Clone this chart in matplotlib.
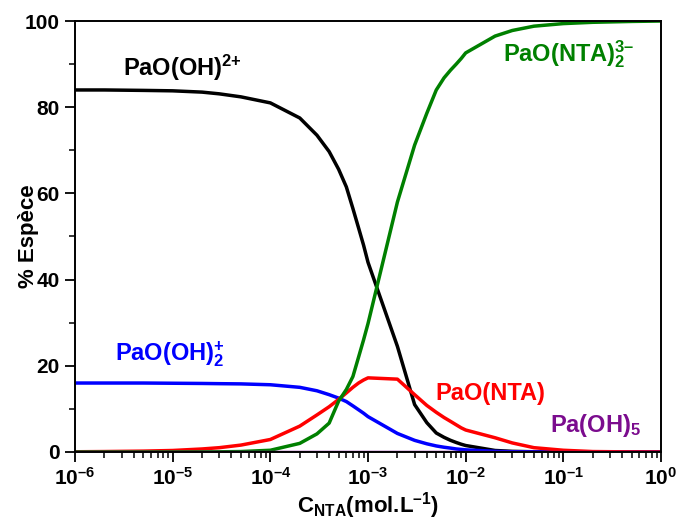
import matplotlib
matplotlib.use("Agg")
import numpy as np
import matplotlib.pyplot as plt
from matplotlib.ticker import LogLocator, MultipleLocator, NullFormatter, FuncFormatter

plt.rcParams['font.family'] = ['Liberation Sans', 'DejaVu Sans']
plt.rcParams['font.weight'] = 'bold'
plt.rcParams['mathtext.fontset'] = 'custom'
plt.rcParams['mathtext.rm'] = 'Liberation Sans:bold'
plt.rcParams['mathtext.it'] = 'Liberation Sans:bold'
plt.rcParams['mathtext.bf'] = 'Liberation Sans:bold'
plt.rcParams['mathtext.default'] = 'rm'
plt.rcParams['axes.unicode_minus'] = False

# concentration of NTA (mol/L)
c_nta = [1e-6, 2e-6, 5e-6, 1e-5, 2e-5, 3e-5, 5e-5, 1e-4, 2e-4, 3e-4, 4e-4,
         5e-4, 6e-4, 7e-4, 8e-4, 9e-4, 1e-3, 2e-3, 3e-3, 4e-3, 5e-3, 6e-3,
         7e-3, 8e-3, 9e-3, 1e-2, 2e-2, 3e-2, 5e-2, 1e-1, 2e-1, 5e-1, 1.0]

# % of each species
pao_oh = [84.0, 84.0, 83.9, 83.8, 83.5, 83.1, 82.4, 81.0, 77.5, 73.5, 69.7,
          65.6, 61.5, 56.5, 52.0, 48.0, 44.0, 24.5, 11.0, 6.8, 4.4, 3.4,
          2.7, 2.2, 1.8, 1.5, 0.35, 0.15, 0.05, 0.0, 0.0, 0.0, 0.0]
pao_oh2 = [16.0, 16.0, 16.0, 15.95, 15.9, 15.85, 15.8, 15.6, 15.0, 14.2, 13.3,
           12.5, 11.7, 10.7, 9.8, 9.0, 8.2, 4.3, 2.7, 1.9, 1.4, 1.1,
           0.9, 0.7, 0.6, 0.5, 0.15, 0.05, 0.02, 0.0, 0.0, 0.0, 0.0]
pao_nta = [0.05, 0.1, 0.2, 0.35, 0.7, 1.0, 1.6, 2.9, 6.0, 8.6, 10.5,
           12.2, 13.7, 15.0, 16.0, 16.7, 17.2, 16.9, 13.3, 10.8, 9.2, 8.0,
           7.1, 6.3, 5.6, 5.1, 3.3, 2.1, 1.0, 0.4, 0.1, 0.02, 0.0]
pao_nta2 = [0.0, 0.0, 0.0, 0.01, 0.02, 0.04, 0.1, 0.4, 2.0, 4.2, 6.7,
            11.8, 14.5, 17.5, 22.0, 26.0, 29.8, 58.0, 71.2, 78.6, 84.0, 86.8,
            88.6, 90.0, 91.3, 92.6, 96.5, 97.8, 98.8, 99.4, 99.7, 99.9, 100.0]
pa_oh5 = [0.0, 0.0, 0.0, 0.0, 0.0, 0.0, 0.0, 0.0, 0.0, 0.0, 0.0,
          0.0, 0.0, 0.0, 0.0, 0.0, 0.0, 0.0, 0.0, 0.0, 0.0, 0.0,
          0.0, 0.0, 0.0, 0.0, 0.0, 0.0, 0.0, 0.0, 0.0, 0.0, 0.0]

purple = '#7B0C8E'
green = '#008000'

fig = plt.figure(figsize=(6.79, 5.20), dpi=100)
ax = fig.add_axes([0.1105, 0.1308, 0.863, 0.8288])

lw = 2.5
ax.plot(c_nta, pao_oh, color='black', lw=lw)
ax.plot(c_nta, pao_oh2, color='#0000FF', lw=lw)
ax.plot(c_nta, pao_nta, color='#FF0000', lw=lw)
ax.plot(c_nta, pao_nta2, color=green, lw=lw)
ax.plot(c_nta, pa_oh5, color=purple, lw=lw)

ax.set_xscale('log')
ax.set_xlim(1e-6, 1)
ax.set_ylim(0, 100)


def pow10(v, pos):
    e = int(round(np.log10(v)))
    s = str(abs(e))
    if e < 0:
        s = '\u2013' + s
    return '$10^{' + s + '}$'


ax.yaxis.set_major_locator(MultipleLocator(20))
ax.yaxis.set_minor_locator(MultipleLocator(10))
ax.xaxis.set_major_locator(LogLocator(base=10, numticks=10))
ax.xaxis.set_major_formatter(FuncFormatter(pow10))
ax.xaxis.set_minor_locator(LogLocator(base=10, subs=[2, 3, 4, 5, 6, 7, 8, 9], numticks=20))
ax.xaxis.set_minor_formatter(NullFormatter())

ax.tick_params(which='major', direction='out', length=7, width=1.3, labelsize=15, pad=4)
ax.tick_params(which='minor', direction='out', length=4, width=1.1)
ax.tick_params(top=False, right=False)
for sp in ax.spines.values():
    sp.set_linewidth(1.4)

ax.set_ylabel('% Espèce', fontsize=16, fontweight='bold')
ax.yaxis.set_label_coords(-0.062, 0.5)
ax.set_xlabel('C$_{NTA}$(mol.L$^{\u20131}$)', fontsize=16, fontweight='bold', labelpad=1)

fs = 17
ax.text(3.1e-6, 87.2, r'PaO(OH)$^{2{+}}$', color='black', fontsize=fs, fontweight='bold', va='baseline')
ax.text(0.024, 90.6, 'PaO(NTA)$_2^{3\u2013}$', color=green, fontsize=fs, fontweight='bold', va='baseline')
ax.text(2.57e-6, 21.3, r'PaO(OH)$_2^{+}$', color='#0000FF', fontsize=fs, fontweight='bold', va='baseline')
ax.text(4.9e-3, 12.1, 'PaO(NTA)', color='#FF0000', fontsize=fs, fontweight='bold', va='baseline')
ax.text(0.073, 4.7, r'Pa(OH)$_5$', color=purple, fontsize=fs, fontweight='bold', va='baseline')

fig.savefig('out.png', dpi=100)
